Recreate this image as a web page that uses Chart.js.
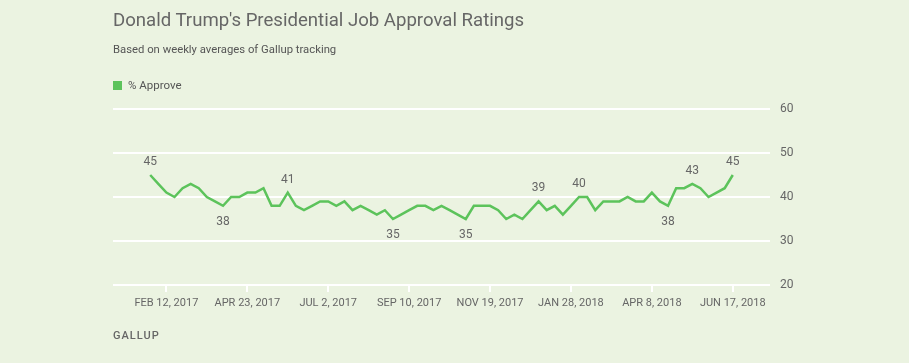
<!DOCTYPE html>
<html>
<head>
<meta charset="utf-8">
<script src="https://cdn.jsdelivr.net/npm/chart.js@4"></script>
<style>
  body { margin: 0; background: #ebf3e1; font-family: Roboto, "Open Sans", sans-serif; color: #666; }
  #wrap { position: relative; width: 909px; height: 363px; overflow: hidden; }
  #title { position: absolute; left: 113px; top: 9px; font-size: 18.6px; color: #666; }
  #subtitle { position: absolute; left: 113px; top: 43px; font-size: 11.3px; color: #555; }
  #legend { position: absolute; left: 113px; top: 78px; font-size: 11.5px; color: #555; }
  #legend span.box { display: inline-block; width: 9px; height: 9px; background: #5cc35b; margin-right: 6px; vertical-align: -1px; }
  #gallup { position: absolute; left: 113px; top: 329px; font-size: 11px; font-weight: 500; letter-spacing: 1px; color: #666; }
  canvas { position: absolute; left: 0; top: 0; }
</style>
</head>
<body>
<div id="wrap">
  <canvas id="chart" width="909" height="363"></canvas>
  <div id="title">Donald Trump's Presidential Job Approval Ratings</div>
  <div id="subtitle">Based on weekly averages of Gallup tracking</div>
  <div id="legend"><span class="box"></span>% Approve</div>
  <div id="gallup">GALLUP</div>
</div>
<script>
// weekly averages, first week ending Jan 29, 2017
const approve = [45, 43, 41, 40, 42, 43, 42, 40, 39, 38,
  40, 40, 41, 41, 42, 38, 38, 41, 38, 37,
  38, 39, 39, 38, 39, 37, 38, 37, 36, 37,
  35, 36, 37, 38, 38, 37, 38, 37, 36, 35,
  38, 38, 38, 37, 35, 36, 35, 37, 39, 37,
  38, 36, 38, 40, 40, 37, 39, 39, 39, 40,
  39, 39, 41, 39, 38, 42, 42, 43, 42, 40,
  41, 42, 45];

const tickWeeks = [2, 12, 22, 32, 42, 52, 62, 72];
const tickLabels = ['FEB 12, 2017', 'APR 23, 2017', 'JUL 2, 2017', 'SEP 10, 2017',
  'NOV 19, 2017', 'JAN 28, 2018', 'APR 8, 2018', 'JUN 17, 2018'];
const labeledWeeks = [0, 9, 17, 30, 39, 48, 53, 64, 67, 72];

const points = approve.map((v, i) => ({ x: i, y: v }));

// value labels over peaks, under troughs
const valueLabels = {
  id: 'valueLabels',
  afterDatasetsDraw(chart) {
    const ctx = chart.ctx;
    const xs = chart.scales.x, ys = chart.scales.y;
    ctx.save();
    ctx.font = '12px Roboto, sans-serif';
    ctx.fillStyle = '#666';
    ctx.textAlign = 'center';
    ctx.textBaseline = 'middle';
    labeledWeeks.forEach(i => {
      const v = approve[i];
      const prev = approve[i - 1] !== undefined ? approve[i - 1] : approve[i + 1];
      const next = approve[i + 1] !== undefined ? approve[i + 1] : approve[i - 1];
      const above = v >= (prev + next) / 2;
      const px = xs.getPixelForValue(i);
      const py = ys.getPixelForValue(v);
      ctx.fillText(String(v), px, above ? py - 13 : py + 16);
    });
    ctx.restore();
  }
};

new Chart(document.getElementById('chart'), {
  type: 'line',
  data: {
    datasets: [{
      label: '% Approve',
      data: points,
      borderColor: '#5cc35b',
      borderWidth: 2.5,
      pointRadius: 0,
      tension: 0,
      fill: false
    }]
  },
  options: {
    responsive: false,
    animation: false,
    layout: { padding: { left: 113, top: 109, right: 0, bottom: 0 } },
    plugins: { legend: { display: false }, tooltip: { enabled: false } },
    scales: {
      x: {
        type: 'linear',
        min: -4.6,
        max: 76.6,
        afterBuildTicks: s => { s.ticks = tickWeeks.map(v => ({ value: v })); },
        afterFit: s => { s.height = 78; },
        ticks: {
          autoSkip: false,
          maxRotation: 0,
          padding: 5,
          color: '#666',
          font: { size: 11, family: 'Roboto' },
          callback: v => tickLabels[tickWeeks.indexOf(v)]
        },
        grid: { drawOnChartArea: false, drawTicks: true, tickLength: 7, color: '#fff', lineWidth: 2 },
        border: { display: false }
      },
      y: {
        position: 'right',
        min: 20,
        max: 60,
        afterFit: s => { s.width = 139; },
        ticks: { stepSize: 10, padding: 10, color: '#666', font: { size: 12, family: 'Roboto' } },
        grid: { drawTicks: false, color: '#fff', lineWidth: 2 },
        border: { display: false }
      }
    }
  },
  plugins: [valueLabels]
});
</script>
</body>
</html>
